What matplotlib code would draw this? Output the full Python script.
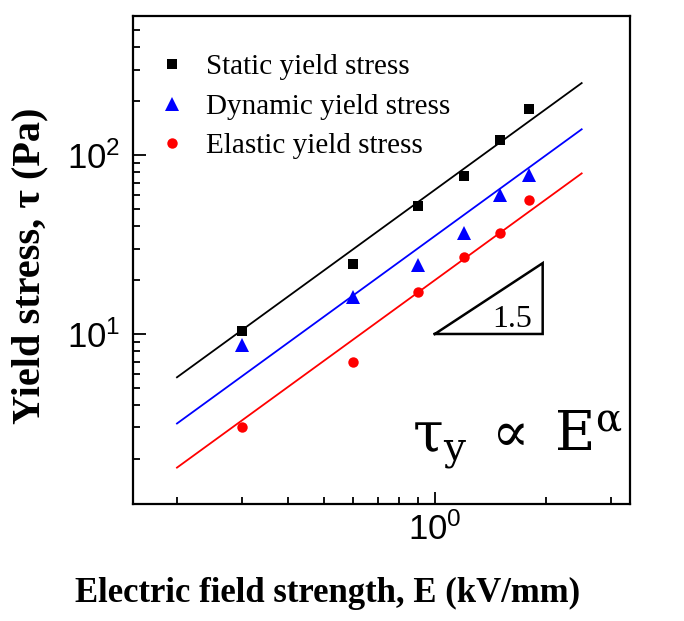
import numpy as np
import matplotlib
matplotlib.use("Agg")
import matplotlib.pyplot as plt
from matplotlib.ticker import LogLocator, NullFormatter

# ---- data ----
E_field = [0.3, 0.6, 0.9, 1.2, 1.5, 1.8]
static_stress = [10.4, 24.5, 52, 76, 121, 182]
dynamic_stress = [8.7, 16.0, 24.2, 36.9, 60, 77]
elastic_stress = [3.0, 7.0, 17.2, 26.8, 36.9, 56]
series_labels = ["Static yield stress", "Dynamic yield stress", "Elastic yield stress"]
fit_prefactors = [64.0, 35.3, 20.0]
fit_exponent = 1.5
fit_range = [0.2, 2.5]
slope_label = "1.5"

serif = ["Liberation Serif", "DejaVu Serif"]
sans = ["Liberation Sans", "DejaVu Sans"]
plt.rcParams["font.family"] = sans

fig = plt.figure(figsize=(6.84, 6.21), dpi=100)
ax = fig.add_axes([133/684, 1-504/621, (630-133)/684, (504-16)/621])

colors = ["black", "blue", "red"]
markers = ["s", "^", "o"]
msizes = [7.5, 9.5, 7.5]
for vals, lab, c, m, ms in zip([static_stress, dynamic_stress, elastic_stress], series_labels, colors, markers, msizes):
    ax.plot(E_field, vals, linestyle="none", marker=m, color=c, markersize=ms,
            markeredgewidth=0, label=lab)

xf = np.logspace(np.log10(fit_range[0]), np.log10(fit_range[1]), 50)
for a, c in zip(fit_prefactors, colors):
    ax.plot(xf, a * xf**fit_exponent, color=c, lw=1.3)

ax.set_xscale("log")
ax.set_yscale("log")
ax.set_xlim(0.152, 3.38)
ax.set_ylim(1.12, 600)

ax.xaxis.set_major_locator(LogLocator(base=10, numticks=10))
ax.xaxis.set_minor_locator(LogLocator(base=10, subs=np.arange(2, 10), numticks=10))
ax.yaxis.set_major_locator(LogLocator(base=10, numticks=10))
ax.yaxis.set_minor_locator(LogLocator(base=10, subs=np.arange(2, 10), numticks=10))
ax.xaxis.set_minor_formatter(NullFormatter())
ax.yaxis.set_minor_formatter(NullFormatter())

ax.tick_params(which="both", direction="in", top=False, right=False, width=1.3)
ax.tick_params(which="major", length=9, labelsize=25, pad=6)
ax.tick_params(which="minor", length=5)
ax.tick_params(axis="y", which="major", pad=9)
for s in ax.spines.values():
    s.set_linewidth(1.6)

# slope triangle
tri_x = [1.0, 1.96, 1.96, 1.0]
tri_y = [10.0, 24.9, 10.0, 10.0]
ax.plot(tri_x, tri_y, color="black", lw=1.8, solid_joinstyle="miter")
ax.text(1.83, 10.9, slope_label, fontsize=23, family=serif, ha="right", va="baseline")

# formula
ax.text(0.985, 0.107, r"$\mathrm{\tau_y}\;\propto\;\mathrm{E}^{\mathrm{\alpha}}$", transform=ax.transAxes,
        fontsize=40, ha="right", va="baseline", math_fontfamily="dejavuserif")

leg = ax.legend(loc="upper left", bbox_to_anchor=(0.003, 0.976), frameon=False,
                prop={"family": serif, "size": 21}, handlelength=0.8,
                handletextpad=0.75, labelspacing=0.45, markerscale=1.0)

fig.text(30/684, 1-266/621, "Yield stress, τ (Pa)", rotation=90,
         family=serif, fontweight="bold", fontsize=29, ha="center", va="center")
fig.text(328/684, 1-602/621, "Electric field strength, E (kV/mm)",
         family=serif, fontweight="bold", fontsize=25, ha="center", va="baseline")

fig.savefig("out.png", dpi=100)
